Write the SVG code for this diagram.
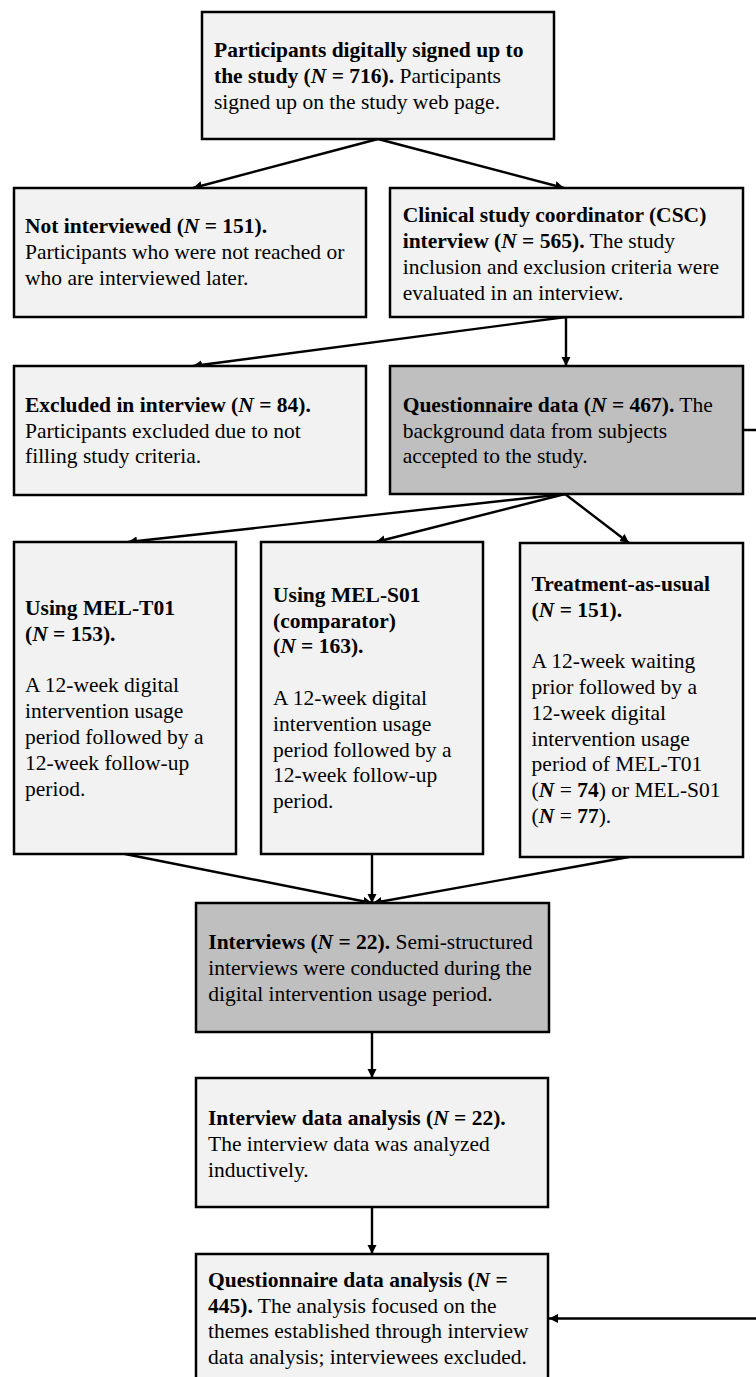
<svg xmlns="http://www.w3.org/2000/svg" width="756" height="1377" viewBox="0 0 756 1377">
<style>
.box{stroke:#000;stroke-width:2.5}
.lt{fill:#f2f2f2}
.dk{fill:#bfbfbf}
text{font-family:"Liberation Serif","Times New Roman",serif;font-size:21.5px;fill:#000}
.b{font-weight:bold}
.i{font-style:italic}
.con{stroke:#000;stroke-width:2.4;fill:none;marker-end:url(#ah)}
</style>
<defs>
<marker id="ah" markerUnits="userSpaceOnUse" markerWidth="10" markerHeight="10" refX="9" refY="4.5" orient="auto">
<path d="M0,0 L9,4.5 L0,9 z" fill="#000"/>
</marker>
</defs>
<rect width="756" height="1377" fill="#fff"/>
<g id="connectors">
<path class="con" d="M378,139 L193,188"/>
<path class="con" d="M378,139 L564,188"/>
<path class="con" d="M566,317 L193,366"/>
<path class="con" d="M566,317 L566,366"/>
<path class="con" d="M743,430 H770 V1318.5 H549"/>
<path class="con" d="M565,494 L128,542"/>
<path class="con" d="M565,494 L376,542"/>
<path class="con" d="M565,494 L629,543"/>
<path class="con" d="M125,854 L372,903"/>
<path class="con" d="M372,854 L372,903"/>
<path class="con" d="M629,857 L373,903"/>
<path class="con" d="M372,1032 L372,1078"/>
<path class="con" d="M372,1207 L372,1254"/>
</g>
<g id="n-signup">
<rect class="box lt" x="202" y="12" width="352" height="127"/>
<text x="214" y="57"><tspan class="b">Participants digitally signed up to</tspan></text>
<text x="214" y="82.8"><tspan class="b">the study (</tspan><tspan class="b i">N</tspan><tspan class="b"> = 716).</tspan><tspan> Participants</tspan></text>
<text x="214" y="108.6">signed up on the study web page.</text>
</g>
<g id="n-notinterviewed">
<rect class="box lt" x="14" y="188" width="352" height="129"/>
<text x="25" y="233"><tspan class="b">Not interviewed (</tspan><tspan class="b i">N</tspan><tspan class="b"> = 151).</tspan></text>
<text x="25" y="259">Participants who were not reached or</text>
<text x="25" y="285">who are interviewed later.</text>
</g>
<g id="n-csc">
<rect class="box lt" x="390" y="188" width="353" height="129"/>
<text x="402.7" y="222"><tspan class="b">Clinical study coordinator (CSC)</tspan></text>
<text x="402.7" y="248"><tspan class="b">interview (</tspan><tspan class="b i">N</tspan><tspan class="b"> = 565).</tspan><tspan> The study</tspan></text>
<text x="402.7" y="274">inclusion and exclusion criteria were</text>
<text x="402.7" y="300">evaluated in an interview.</text>
</g>
<g id="n-excluded">
<rect class="box lt" x="14" y="366" width="352" height="129"/>
<text x="25" y="411.7"><tspan class="b">Excluded in interview (</tspan><tspan class="b i">N</tspan><tspan class="b"> = 84).</tspan></text>
<text x="25" y="437.5">Participants excluded due to not</text>
<text x="25" y="463.3">filling study criteria.</text>
</g>
<g id="n-qdata">
<rect class="box dk" x="390" y="366" width="353" height="128"/>
<text x="402.7" y="411.7"><tspan class="b">Questionnaire data (</tspan><tspan class="b i">N</tspan><tspan class="b"> = 467).</tspan><tspan> The</tspan></text>
<text x="402.7" y="437.5">background data from subjects</text>
<text x="402.7" y="463.3">accepted to the study.</text>
</g>
<g id="n-t01">
<rect class="box lt" x="14" y="542" width="222" height="312"/>
<text x="25" y="615"><tspan class="b">Using MEL-T01</tspan></text>
<text x="25" y="640.8"><tspan class="b">(</tspan><tspan class="b i">N</tspan><tspan class="b"> = 153).</tspan></text>
<text x="25" y="692.4">A 12-week digital</text>
<text x="25" y="718.2">intervention usage</text>
<text x="25" y="744">period followed by a</text>
<text x="25" y="769.8">12-week follow-up</text>
<text x="25" y="795.6">period.</text>
</g>
<g id="n-s01">
<rect class="box lt" x="261" y="542" width="222" height="312"/>
<text x="273" y="601.7"><tspan class="b">Using MEL-S01</tspan></text>
<text x="273" y="627.5"><tspan class="b">(comparator)</tspan></text>
<text x="273" y="653.3"><tspan class="b">(</tspan><tspan class="b i">N</tspan><tspan class="b"> = 163).</tspan></text>
<text x="273" y="705">A 12-week digital</text>
<text x="273" y="730.8">intervention usage</text>
<text x="273" y="756.6">period followed by a</text>
<text x="273" y="782.4">12-week follow-up</text>
<text x="273" y="808.2">period.</text>
</g>
<g id="n-tau">
<rect class="box lt" x="520" y="543" width="223" height="314"/>
<text x="531.6" y="590.7"><tspan class="b">Treatment-as-usual</tspan></text>
<text x="531.6" y="616.5"><tspan class="b">(</tspan><tspan class="b i">N</tspan><tspan class="b"> = 151).</tspan></text>
<text x="531.6" y="668.1">A 12-week waiting</text>
<text x="531.6" y="693.9">prior followed by a</text>
<text x="531.6" y="719.7">12-week digital</text>
<text x="531.6" y="745.5">intervention usage</text>
<text x="531.6" y="771.3">period of MEL-T01</text>
<text x="531.6" y="797.1"><tspan>(</tspan><tspan class="b i">N</tspan><tspan> = </tspan><tspan class="b">74</tspan><tspan>) or MEL-S01</tspan></text>
<text x="531.6" y="822.9"><tspan>(</tspan><tspan class="b i">N</tspan><tspan> = </tspan><tspan class="b">77</tspan><tspan>).</tspan></text>
</g>
<g id="n-interviews">
<rect class="box dk" x="196" y="903" width="353" height="129"/>
<text x="208.3" y="949.3"><tspan class="b">Interviews (</tspan><tspan class="b i">N</tspan><tspan class="b"> = 22).</tspan><tspan> Semi-structured</tspan></text>
<text x="208.3" y="975.1">interviews were conducted during the</text>
<text x="208.3" y="1000.9">digital intervention usage period.</text>
</g>
<g id="n-ida">
<rect class="box lt" x="196" y="1078" width="352" height="129"/>
<text x="208" y="1125"><tspan class="b">Interview data analysis (</tspan><tspan class="b i">N</tspan><tspan class="b"> = 22).</tspan></text>
<text x="208" y="1150.8">The interview data was analyzed</text>
<text x="208" y="1176.6">inductively.</text>
</g>
<g id="n-qda">
<rect class="box lt" x="196" y="1254" width="352" height="140"/>
<text x="208" y="1286.7"><tspan class="b">Questionnaire data analysis (</tspan><tspan class="b i">N</tspan><tspan class="b"> =</tspan></text>
<text x="208" y="1312.5"><tspan class="b">445).</tspan><tspan> The analysis focused on the</tspan></text>
<text x="208" y="1338.3">themes established through interview</text>
<text x="208" y="1364.1">data analysis; interviewees excluded.</text>
</g>
</svg>
